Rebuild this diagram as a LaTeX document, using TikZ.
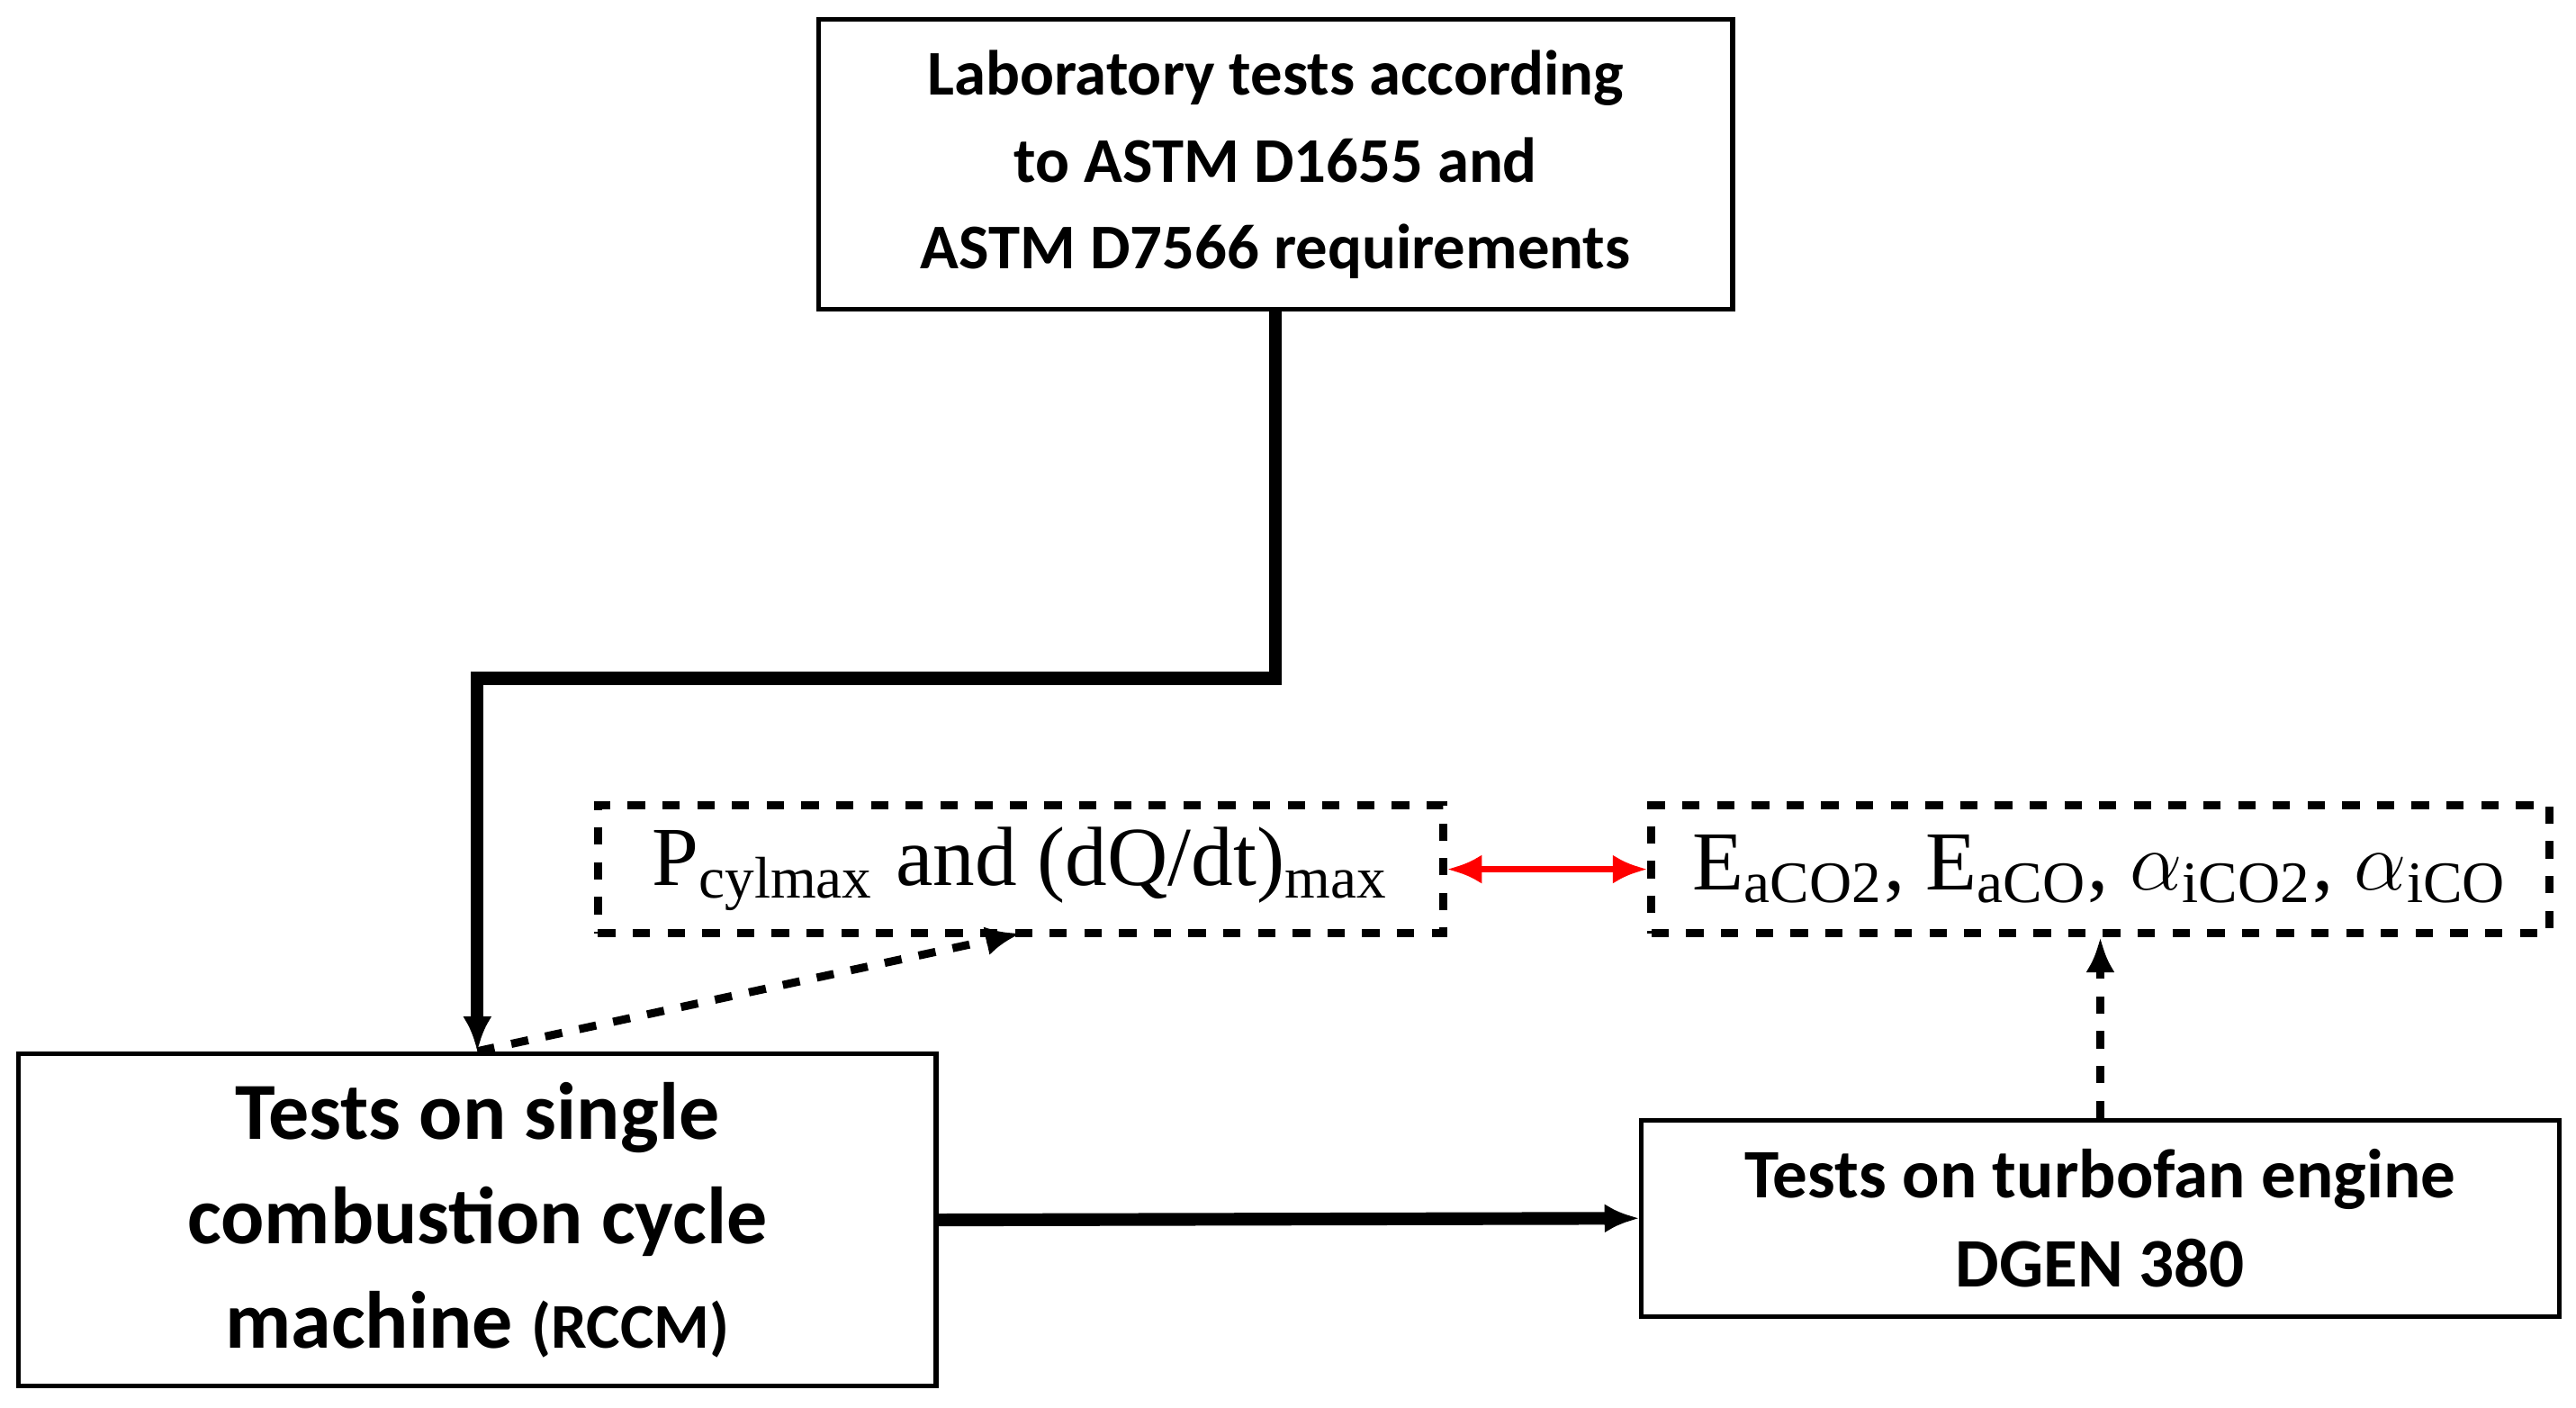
\documentclass[tikz,border=0pt]{standalone}
\usepackage{fontspec}
\setmainfont{Carlito}
\newfontfamily\tnr{Liberation Serif}
\usetikzlibrary{arrows.meta}
\begin{document}
\begin{tikzpicture}[
        x=0.01cm, y=-0.01cm,
        every path/.style={>={Latex[length=6pt,width=5pt]}},
        box/.style={draw, line width=0.8pt, align=center, inner sep=0pt, font=\bfseries},
        dbox/.style={draw, dashed, line width=1.4pt, inner sep=0pt, font=\tnr\fontsize{14.5}{17}\selectfont},
        thick line/.style={line width=2.2pt},
        dash line/.style={line width=1.4pt, dashed}
        ]
        \useasboundingbox (0,0) rectangle (1565,855);

        % nodes
        \node[box, minimum width=5.55cm, minimum height=1.76cm, font=\bfseries\fontsize{11}{15}\selectfont] (lab) at (775,100)
            {Laboratory tests according\\to ASTM D1655 and\\ASTM D7566 requirements};
        \node[box, minimum width=5.57cm, minimum height=2.02cm, font=\bfseries\fontsize{14}{18}\selectfont] (rccm) at (290,741)
            {Tests on single\\combustion cycle\\machine {\fontsize{11}{18}\selectfont(RCCM)}};
        \node[box, minimum width=5.57cm, minimum height=1.19cm, font=\bfseries\fontsize{12}{15.5}\selectfont] (dgen) at (1276,740)
            {Tests on turbofan engine\\DGEN 380};

        \node[dbox, minimum width=5.13cm, minimum height=0.78cm] (pcyl) at (620,528)
            {P\textsubscript{cylmax} and (dQ/dt)\textsubscript{max}};
        \node[dbox, minimum width=5.45cm, minimum height=0.78cm] (emis) at (1276,528)
            {E\textsubscript{aCO2}, E\textsubscript{aCO}, $\alpha$\textsubscript{iCO2}, $\alpha$\textsubscript{iCO}};

        \coordinate (bend) at (775,412);
        \coordinate (ptarget) at (620,567);

        % edges
        \draw[thick line,->] (lab.south) |- (bend) -| (rccm.north);
        \draw[dash line,->] (rccm.north) -- (ptarget);
        \draw[red, line width=1.2pt, <->] (pcyl.east) -- (emis.west);
        \draw[dash line,->] (dgen.north) -- (emis.south);
        \draw[thick line,->] (rccm.east) -- (dgen.west);
    \end{tikzpicture}
\end{document}
